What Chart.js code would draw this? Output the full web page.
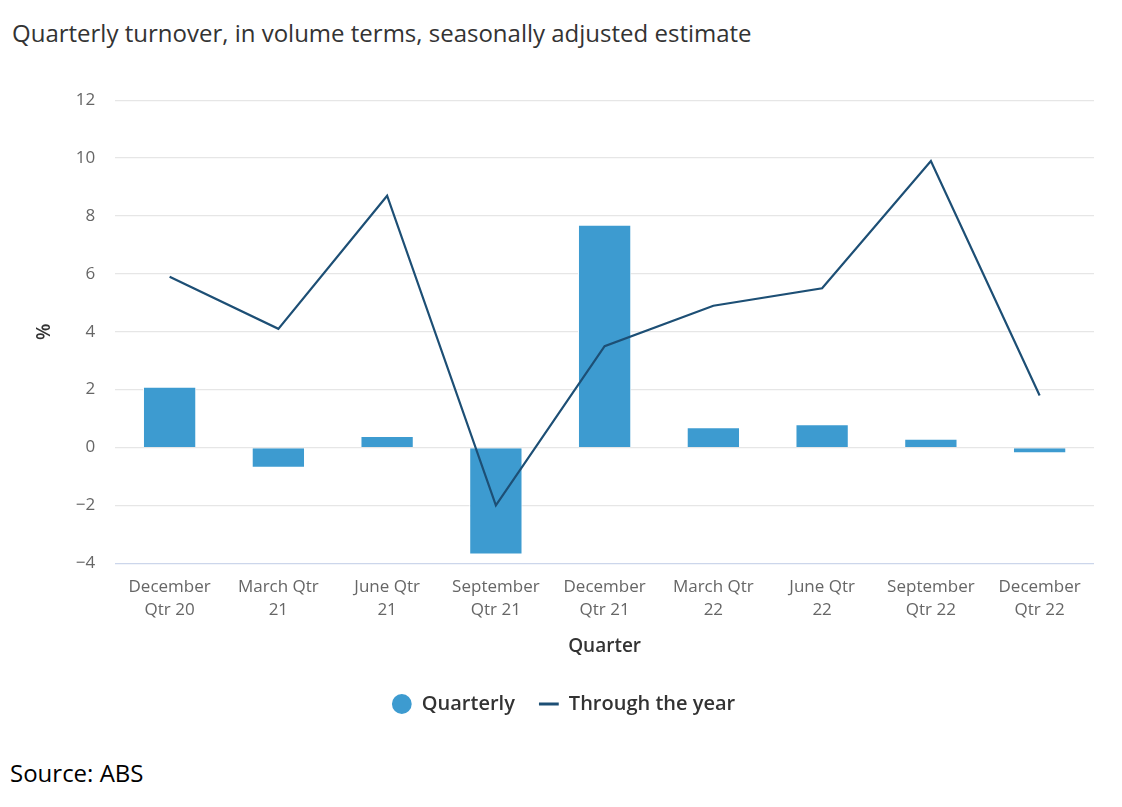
<!DOCTYPE html>
<html>
<head>
<meta charset="utf-8">
<script src="https://cdn.jsdelivr.net/npm/chart.js@4"></script>
<style>
  body { margin: 0; background: #fff; width: 1122px; height: 807px; overflow: hidden; font-family: "Open Sans", sans-serif; }
  #title { position: absolute; left: 12px; top: 16px; font-size: 24px; color: #333; }
  #source { position: absolute; left: 10px; top: 756px; font-size: 24px; color: #000; }
  #wrap { position: absolute; left: 0; top: 70px; width: 1122px; height: 654px; }
</style>
</head>
<body>
<div id="title">Quarterly turnover, in volume terms, seasonally adjusted estimate</div>
<div id="wrap"><canvas id="chart"></canvas></div>
<div id="source">Source: ABS</div>
<script>
// categories, two lines each
let quarters = [
  ["December", "Qtr 20"], ["March Qtr", "21"], ["June Qtr", "21"],
  ["September", "Qtr 21"], ["December", "Qtr 21"], ["March Qtr", "22"],
  ["June Qtr", "22"], ["September", "Qtr 22"], ["December", "Qtr 22"]
];
let quarterly = [2.1, -0.7, 0.4, -3.7, 7.7, 0.7, 0.8, 0.3, -0.2]; // % change on previous quarter
let throughYear = [5.9, 4.1, 8.7, -2.0, 3.5, 4.9, 5.5, 9.9, 1.8]; // % change through the year
let yTicks = [-4, -2, 0, 2, 4, 6, 8, 10, 12];

let barColour = '#3d9bd0';
let lineColour = '#1d4f75';
let textColour = '#666';

const ctx = document.getElementById('chart').getContext('2d');
new Chart(ctx, {
  type: 'bar',
  data: {
    labels: quarters,
    datasets: [
      {
        label: 'Quarterly',
        data: quarterly,
        backgroundColor: barColour,
        borderColor: '#fff',
        borderWidth: 1,
        categoryPercentage: 0.5,
        barPercentage: 0.98,
        order: 2
      },
      {
        type: 'line',
        label: 'Through the year',
        data: throughYear,
        borderColor: lineColour,
        backgroundColor: lineColour,
        borderWidth: 2.2,
        pointRadius: 0,
        tension: 0,
        order: 1
      }
    ]
  },
  options: {
    responsive: true,
    maintainAspectRatio: false,
    animation: false,
    layout: { padding: { left: 33, right: 28, top: 20, bottom: 0 } },
    plugins: {
      tooltip: { enabled: false },
      legend: {
        position: 'bottom',
        labels: {
          usePointStyle: true,
          boxHeight: 14,
          padding: 24,
          color: '#333',
          font: { family: 'Open Sans', size: 20, weight: '600' },
          generateLabels: function(chart) {
            let items = Chart.defaults.plugins.legend.labels.generateLabels(chart);
            items.sort((a, b) => a.datasetIndex - b.datasetIndex);
            items.forEach(function(it) {
              if (it.datasetIndex === 0) {
                it.pointStyle = 'circle';
                it.fillStyle = barColour;
                it.strokeStyle = barColour;
                it.lineWidth = 0;
              } else {
                it.pointStyle = 'line';
                it.strokeStyle = lineColour;
                it.lineWidth = 3;
              }
            });
            return items;
          }
        }
      }
    },
    scales: {
      x: {
        grid: { display: false, drawTicks: false },
        border: { display: false },
        ticks: {
          color: textColour,
          font: { family: 'Open Sans', size: 17, lineHeight: 1.35 },
          maxRotation: 0,
          autoSkip: false,
          padding: 12
        },
        title: {
          display: true,
          text: 'Quarter',
          color: '#333',
          font: { family: 'Open Sans', size: 19, weight: '600' },
          padding: { top: 2, bottom: 12 }
        }
      },
      y: {
        min: -4,
        max: 12,
        afterBuildTicks: function(axis) {
          axis.ticks = yTicks.map(v => ({ value: v }));
        },
        grid: {
          color: function(c) { return c.tick && c.tick.value === -4 ? '#ccd6eb' : '#e6e6e6'; },
          lineWidth: 1.2,
          drawTicks: false
        },
        border: { display: false },
        ticks: {
          color: textColour,
          font: { family: 'Open Sans', size: 17 },
          padding: 20,
          callback: function(v) { return v < 0 ? '\u2212' + Math.abs(v) : String(v); }
        },
        title: {
          display: true,
          text: '%',
          color: '#333',
          font: { family: 'Open Sans', size: 19, weight: '600' },
          padding: { top: 0, bottom: 0 }
        }
      }
    }
  }
});
</script>
</body>
</html>
